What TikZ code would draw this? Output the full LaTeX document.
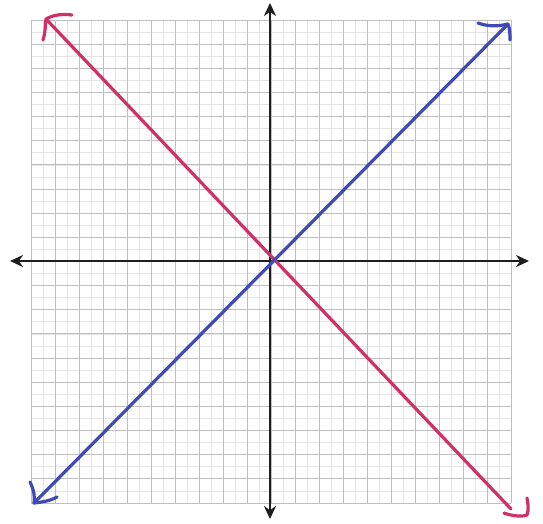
\documentclass[tikz,border=0pt]{standalone}
\usetikzlibrary{arrows.meta}
\definecolor{redline}{HTML}{D0306A}
\definecolor{blueline}{HTML}{3F4BB3}
\definecolor{axisc}{HTML}{1E1E1E}
\tikzset{
  minorgrid/.style={draw=gray!20, line width=0.8pt},
  majorgrid/.style={draw=gray!50, line width=1pt},
  axisline/.style={draw=axisc, line width=2.8pt, -{Stealth[length=13pt,width=12pt]}},
  redpen/.style={draw=redline, line width=3.2pt, line cap=round, line join=round},
  bluepen/.style={draw=blueline, line width=3.2pt, line cap=round, line join=round}
}
\begin{document}
\begin{tikzpicture}[x=1pt,y=-1pt]
\useasboundingbox (0,0) rectangle (543,523);
\fill[white] (0,0) rectangle (543,523);
% minor grid
\foreach \i in {0,...,40} {
  \draw[minorgrid] ({31+12*\i},20) -- ({31+12*\i},503);
  \draw[minorgrid] (31,{20+12.075*\i}) -- (511,{20+12.075*\i});
}
% major grid
\foreach \i in {0,...,20} {
  \draw[majorgrid] ({31+24*\i},20) -- ({31+24*\i},503);
  \draw[majorgrid] (31,{20+24.15*\i}) -- (511,{20+24.15*\i});
}
% axes
\coordinate (O) at (270,261);
\coordinate (xl) at (10,261);
\coordinate (xr) at (529,261);
\coordinate (yt) at (270,3);
\coordinate (yb) at (270,519);
\draw[axisline] (O) -- (xl);
\draw[axisline] (O) -- (xr);
\draw[axisline] (O) -- (yt);
\draw[axisline] (O) -- (yb);
% red line
\coordinate (rt) at (46,19);
\coordinate (rb) at (511,509);
\draw[redpen] (rt) -- (rb);
\draw[redpen] (43,40) .. controls (46,30) and (45,24) .. (46,19) .. controls (55,14) and (64,14) .. (72,15);
\draw[redpen] (504,513) .. controls (512,516) and (522,517) .. (527,515) .. controls (529,510) and (528,504) .. (527,498);
% blue line
\coordinate (bt) at (508,24);
\coordinate (bb) at (34,503);
\draw[bluepen] (bb) -- (bt);
\draw[bluepen] (478,23) .. controls (486,26) and (496,27) .. (508,24) .. controls (510,29) and (510,35) .. (510,40);
\draw[bluepen] (30,482) .. controls (34,490) and (35,497) .. (34,503) .. controls (42,502) and (50,501) .. (57,497);
\end{tikzpicture}
\end{document}
